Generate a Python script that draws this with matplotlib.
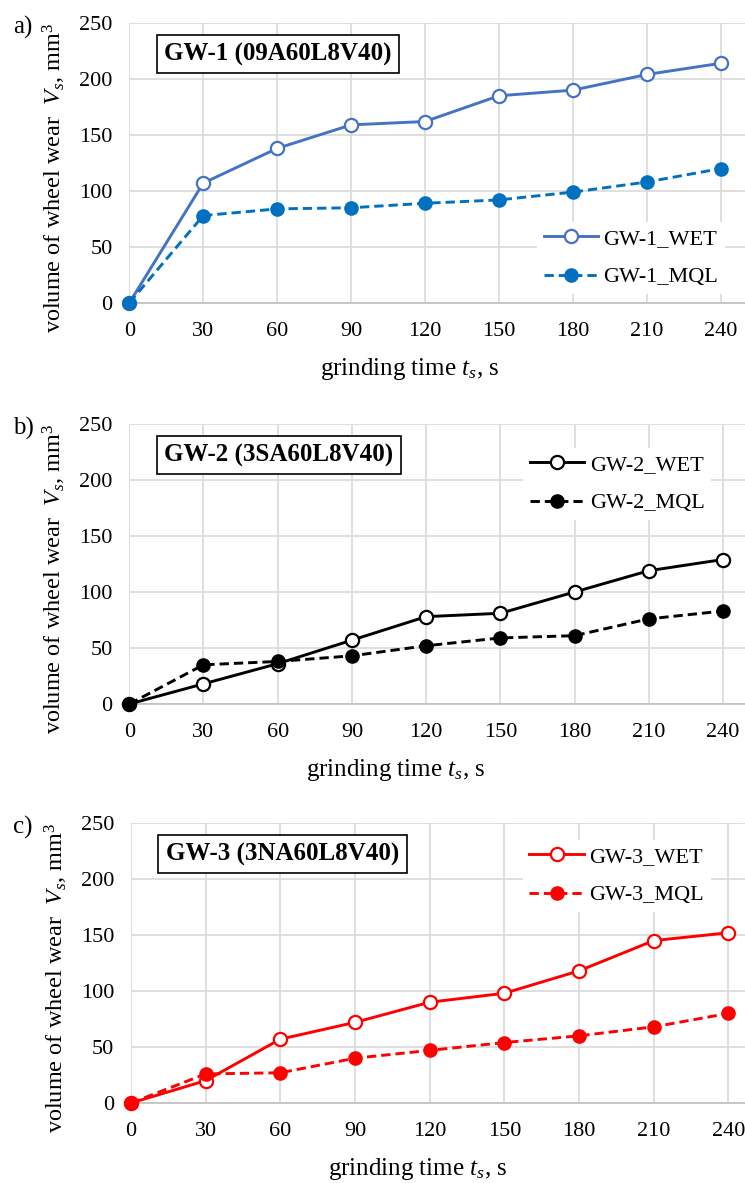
import numpy as np
import matplotlib
matplotlib.use('Agg')
import matplotlib.pyplot as plt

plt.rcParams['font.family'] = ['Liberation Serif', 'DejaVu Serif']
plt.rcParams['mathtext.fontset'] = 'custom'
plt.rcParams['mathtext.rm'] = 'Liberation Serif'
plt.rcParams['mathtext.it'] = 'Liberation Serif:italic'

time_s = [0, 30, 60, 90, 120, 150, 180, 210, 240]

gw1_wet = [0, 107, 138, 159, 162, 185, 190, 204, 214]
gw1_mql = [0, 78, 84, 85, 89, 92, 99, 108, 120]
gw2_wet = [0, 18, 36, 57, 78, 81, 100, 119, 129]
gw2_mql = [0, 35, 38, 43, 52, 59, 61, 76, 83]
gw3_wet = [0, 20, 57, 72, 90, 98, 118, 145, 152]
gw3_mql = [0, 26, 27, 40, 47, 54, 60, 68, 80]

panels = [
    ('a)', 'GW-1 (09A60L8V40)', 'GW-1', gw1_wet, gw1_mql, '#4472C4', '#0070C0'),
    ('b)', 'GW-2 (3SA60L8V40)', 'GW-2', gw2_wet, gw2_mql, 'black', 'black'),
    ('c)', 'GW-3 (3NA60L8V40)', 'GW-3', gw3_wet, gw3_mql, '#FF0000', '#FF0000'),
]

# layout: axes box, right x-limit, legend anchor and x-label centre (axes fraction)
boxes = [
    [0.1735, 0.7439, 0.8265, 0.2367],
    [0.1735, 0.4049, 0.8265, 0.2367],
    [0.1758, 0.0676, 0.8242, 0.2367],
]
xmax = [249.8, 248.9, 246.7]
leg_anchor = [(0.662, 0.161), (0.640, 0.786), (0.638, 0.811)]
xlab_x = [0.456, 0.433, 0.467]

fig = plt.figure(figsize=(7.45, 11.83), dpi=100)

for (tag, title, name, wet, mql, c_wet, c_mql), box, xm, anc, xl in zip(
        panels, boxes, xmax, leg_anchor, xlab_x):
    ax = fig.add_axes(box)
    ax.plot(time_s, wet, '-o', color=c_wet, lw=2.1, ms=9.5, mfc='white',
            mec=c_wet, mew=1.6, label=name + '_WET', clip_on=False, zorder=3)
    ax.plot(time_s, mql, '--o', color=c_mql, lw=2.1, ms=9.5, mfc=c_mql,
            mec=c_mql, dashes=(3.2, 1.7), label=name + '_MQL', clip_on=False, zorder=3)
    ax.set_xlim(0, xm)
    ax.set_ylim(0, 250)
    ax.set_xticks(time_s)
    ax.set_yticks(np.arange(0, 251, 50))
    ax.grid(True, color='#D9D9D9', lw=1.2)
    ax.set_axisbelow(True)
    for s in ['top', 'right', 'left']:
        ax.spines[s].set_visible(False)
    ax.spines['bottom'].set_color('#BFBFBF')
    ax.spines['bottom'].set_linewidth(1.2)
    ax.tick_params(length=0, labelsize=16)
    ax.tick_params(axis='y', pad=12)
    ax.tick_params(axis='x', pad=14)
    ax.set_xlabel(r'grinding time $t_s$, s', fontsize=18)
    ax.xaxis.set_label_coords(xl, -0.19)
    ax.set_ylabel(r'volume of wheel wear  $V_s$, mm$^3$', fontsize=17.5)
    ax.yaxis.set_label_coords(-0.099, 0.445)
    ax.text(0.057, 0.888, title, transform=ax.transAxes, fontsize=18, fontweight='bold',
            ha='left', va='center',
            bbox=dict(boxstyle='square,pad=0.3', fc='white', ec='black', lw=1.2))
    ax.legend(loc='center left', bbox_to_anchor=anc, fontsize=16, frameon=True,
              fancybox=False, edgecolor='none', facecolor='white', framealpha=1,
              handlelength=2.45, handletextpad=0.25, labelspacing=0.8,
              borderpad=0.3, borderaxespad=0)
    bb = ax.get_position()
    fig.text(0.017, bb.y1 + 0.006, tag, fontsize=18, ha='left', va='top')

fig.savefig('out.png', dpi=100)
